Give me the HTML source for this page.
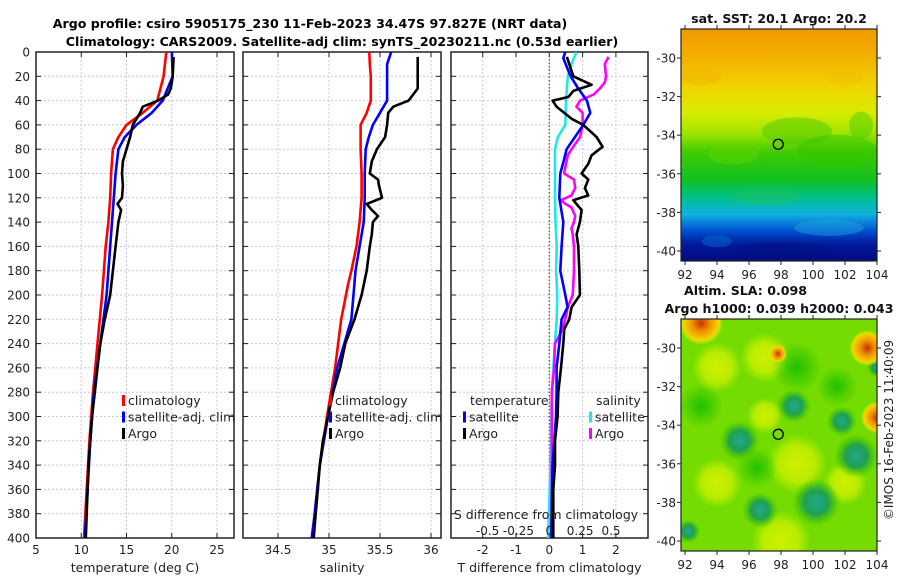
<!DOCTYPE html>
<html><head><meta charset="utf-8"><style>
body{margin:0;background:#fff;}
svg{display:block;font-family:"DejaVu Sans","Liberation Sans",sans-serif;}
</style></head><body>
<svg id="c" width="900" height="580" viewBox="0 0 900 580" xmlns="http://www.w3.org/2000/svg">
<defs>
<linearGradient id="sstg" x1="0" y1="0" x2="0" y2="1">
<stop offset="0" stop-color="#f09a00"/><stop offset="0.12" stop-color="#f4b000"/>
<stop offset="0.25" stop-color="#f0d400"/><stop offset="0.36" stop-color="#d8ec00"/>
<stop offset="0.45" stop-color="#a0e400"/><stop offset="0.53" stop-color="#40cc00"/>
<stop offset="0.65" stop-color="#10c020"/><stop offset="0.73" stop-color="#00c090"/>
<stop offset="0.8" stop-color="#10b0e0"/><stop offset="0.87" stop-color="#0050d0"/>
<stop offset="0.93" stop-color="#001898"/><stop offset="1" stop-color="#000c80"/>
</linearGradient>
<radialGradient id="bl"><stop offset="0" stop-color="#20a890"/><stop offset="0.5" stop-color="#20a050"/><stop offset="1" stop-color="#30c000" stop-opacity="0"/></radialGradient>
<radialGradient id="ye"><stop offset="0" stop-color="#d0f000"/><stop offset="0.6" stop-color="#b8ec00"/><stop offset="1" stop-color="#b0ec00" stop-opacity="0"/></radialGradient>
<radialGradient id="or"><stop offset="0" stop-color="#c83000"/><stop offset="0.4" stop-color="#f09000"/><stop offset="0.8" stop-color="#f0d800"/><stop offset="1" stop-color="#e0f000" stop-opacity="0"/></radialGradient>
<radialGradient id="gr"><stop offset="0" stop-color="#20c000"/><stop offset="1" stop-color="#20c000" stop-opacity="0"/></radialGradient>
<clipPath id="cm1"><rect x="681" y="29" width="196" height="232"/></clipPath>
<clipPath id="cm2"><rect x="681" y="319" width="196" height="232"/></clipPath>
<clipPath id="cp1"><rect x="36" y="52" width="198" height="486"/></clipPath>
<clipPath id="cp2"><rect x="243" y="52" width="198" height="486"/></clipPath>
<clipPath id="cp3"><rect x="451" y="52" width="197" height="486"/></clipPath>
</defs>
<text x="310" y="28" text-anchor="middle" font-size="12.6" font-weight="bold">Argo profile: csiro 5905175_230 11-Feb-2023 34.47S 97.827E (NRT data)</text>
<text x="342" y="46" text-anchor="middle" font-size="12.6" font-weight="bold">Climatology: CARS2009. Satellite-adj clim: synTS_20230211.nc (0.53d earlier)</text>
<g id="maps"></g>
<g id="plots"></g>
</svg>
<script>
// ---- data ----
const depthTick=[0,20,40,60,80,100,120,140,160,180,200,220,240,260,280,300,320,340,360,380,400];
const tTicks=[5,10,15,20,25];
const sTicks=[34.5,35,35.5,36];
const dTicks=[-2,-1,0,1,2];
const sdTicks=[-0.5,-0.25,0,0.25,0.5];
const sdTickLabels=["-0.5","-0.25","0","0.25","0.5"];

const climTdepth=[0,20,40,50,60,70,80,100,120,140,160,180,200,240,280,320,360,400];
const climT=[19.4,19.1,18.4,16.8,15.0,14.1,13.5,13.3,13.2,13.0,12.7,12.5,12.3,11.8,11.3,10.9,10.6,10.3];
const satT=[20.0,20.1,19.0,17.8,16.1,14.8,14.1,13.8,13.6,13.4,13.2,13.0,12.8,12.1,11.4,11.0,10.7,10.4];
const argoTdepth=[4,20,30,35,40,45,50,60,70,80,90,100,110,120,125,130,140,160,180,200,220,240,260,280,300,320,340,360,380,400];
const argoT=[20.2,20.1,19.9,19.6,18.5,16.8,16.5,15.7,15.4,15.0,14.6,14.5,14.6,14.5,14.0,14.4,14.1,13.8,13.5,13.2,12.6,12.1,11.8,11.5,11.2,11.0,10.8,10.7,10.6,10.5];

const climSdepth=[0,10,20,40,50,60,70,80,100,120,140,160,180,190,220,260,300,340,380,400];
const climS=[35.395,35.40,35.41,35.41,35.37,35.31,35.31,35.31,35.32,35.32,35.30,35.27,35.22,35.19,35.12,35.06,34.98,34.91,34.86,34.84];
const satS=[35.61,35.57,35.57,35.57,35.50,35.43,35.39,35.36,35.35,35.35,35.34,35.30,35.26,35.25,35.22,35.08,34.99,34.91,34.86,34.83];
const argoSdepth=[4,20,30,40,45,50,60,70,80,90,100,105,110,120,125,130,135,140,150,160,180,200,220,240,260,280,300,320,340,360,380,400];
const argoS=[35.87,35.87,35.87,35.78,35.63,35.58,35.57,35.55,35.47,35.42,35.40,35.48,35.49,35.52,35.37,35.42,35.48,35.43,35.42,35.40,35.37,35.32,35.25,35.16,35.11,35.04,34.99,34.94,34.91,34.89,34.87,34.85];

const argoDTdepth=[4,20,27,32,37,40,45,55,60,70,78,85,92,100,105,112,118,122,130,140,150,160,180,200,210,220,228,240,260,280,300,320,340,360,380,400];
const argoDT=[0.53,0.72,1.27,0.72,0.57,0.1,0.22,0.67,1.02,1.42,1.6,1.27,1.17,0.97,1.17,1.07,1.17,0.72,0.97,0.92,0.82,0.87,0.9,0.92,0.67,0.6,0.45,0.42,0.35,0.27,0.25,0.17,0.17,0.12,0.12,0.12];
const satDTdepth=[0,5,20,30,40,50,60,70,80,90,100,120,140,160,180,200,210,220,240,260,280,300,340,360,400];
const satDT=[0.48,0.42,0.64,0.87,1.13,1.23,1.02,0.77,0.52,0.43,0.33,0.3,0.42,0.37,0.33,0.48,0.55,0.37,0.3,0.22,0.22,0.2,0.1,0.08,0.06];
const satDSdepth=[0,10,20,40,60,70,80,100,120,140,160,180,200,220,240,280,340,400];
const satDS=[0.22,0.18,0.15,0.135,0.13,0.07,0.046,0.046,0.046,0.05,0.06,0.055,0.065,0.06,0.045,0.02,0.01,-0.01];
const argoDSdepth=[4,10,20,25,30,35,40,45,50,60,70,80,85,95,100,105,112,118,122,125,128,135,140,145,150,160,180,200,210,220,230,240,260,280,320,360,400];
const argoDS=[0.48,0.45,0.46,0.45,0.41,0.36,0.25,0.22,0.27,0.27,0.25,0.18,0.15,0.13,0.12,0.2,0.21,0.18,0.095,0.13,0.18,0.21,0.2,0.18,0.19,0.2,0.2,0.19,0.15,0.13,0.1,0.045,0.04,0.02,0.02,0.02,0.015];

const lonTicks=[92,94,96,98,100,102,104];
const latTicks=[-30,-32,-34,-36,-38,-40];
const argoLon=97.827, argoLat=-34.47;

// ---- helpers ----
const NS="http://www.w3.org/2000/svg";
function mk(parent,tag,attrs,text){const e=document.createElementNS(NS,tag);for(const k in attrs)e.setAttribute(k,attrs[k]);if(text!==undefined)e.textContent=text;parent.appendChild(e);return e;}
const plots=document.getElementById('plots');
const yD=d=>52+d*1.215;
const xT=t=>36+(t-5)*9.05;
const xS=s=>278+(s-34.5)*102;
const xDT=v=>549.3+v*33.3;
const xDS=v=>549.3+v*123.4;
const panels=[{x0:36,x1:234,ticks:tTicks,fx:xT,lab:t=>String(t),title:"temperature (deg C)",name:"temperature"},
 {x0:243,x1:441,ticks:sTicks,fx:xS,lab:t=>String(t),title:"salinity",name:"salinity"},
 {x0:451,x1:648,ticks:dTicks,fx:xDT,lab:t=>String(t),title:"T difference from climatology",name:"difference"}];
panels.forEach((p,i)=>{
  const g=mk(plots,'g',{});
  
  
  depthTick.forEach(d=>{
    if(d>0&&d<400){const l=mk(g,'line',{x1:p.x0,x2:p.x1,y1:yD(d),y2:yD(d),stroke:'#c4c8e4','stroke-width':1,'stroke-dasharray':'2,2'});
    }
    mk(g,'line',{x1:p.x0,x2:p.x0+5,y1:yD(d),y2:yD(d),stroke:'#222'});
    mk(g,'line',{x1:p.x1-5,x2:p.x1,y1:yD(d),y2:yD(d),stroke:'#222'});
  });
  p.ticks.forEach(t=>{
    const x=p.fx(t);
    if(x>p.x0+1&&x<p.x1-1){const l=mk(g,'line',{x1:x,x2:x,y1:52,y2:538,stroke:'#c4c8e4','stroke-width':1,'stroke-dasharray':'2,2'});
    }
    mk(g,'line',{x1:x,x2:x,y1:52,y2:57,stroke:'#222'});
    mk(g,'line',{x1:x,x2:x,y1:533,y2:538,stroke:'#222'});
    const tl=mk(g,'text',{x:x,y:554,'text-anchor':'middle','font-size':12,fill:'#222'},p.lab(t));
    
  });
  const at=mk(g,'text',{x:(p.x0+p.x1)/2,y:572,'text-anchor':'middle','font-size':12.5,fill:'#222'},p.title);
  
  const fr=mk(g,'rect',{x:p.x0,y:52,width:p.x1-p.x0,height:486,fill:'none',stroke:'#222','stroke-width':1.5});
  
});
depthTick.forEach(d=>{
  const t=mk(plots,'text',{x:30,y:yD(d)+4.5,'text-anchor':'end','font-size':12,fill:'#222'},String(d));
  
});
const zl=mk(plots,'line',{x1:xDT(0),x2:xDT(0),y1:52,y2:538,stroke:'#4a5a20','stroke-width':1.2,'stroke-dasharray':'1.5,2'});


function series(depths,vals,fx,color,clip,name){
  const pts=depths.map((d,i)=>fx(vals[i]).toFixed(1)+','+yD(d).toFixed(1)).join(' ');
  const l=mk(plots,'polyline',{points:pts,fill:'none',stroke:color,'stroke-width':2.6,'stroke-linejoin':'round','clip-path':'url(#'+clip+')'});
  
  
}
series(climTdepth,climT,xT,'#ff0000','cp1','clim-temperature-line');
series(climTdepth,satT,xT,'#0000ff','cp1','sat-temperature-line');
series(argoTdepth,argoT,xT,'#000','cp1','argo-temperature-line');
series(climSdepth,climS,xS,'#ff0000','cp2','clim-salinity-line');
series(climSdepth,satS,xS,'#0000ff','cp2','sat-salinity-line');
series(argoSdepth,argoS,xS,'#000','cp2','argo-salinity-line');
series(satDSdepth,satDS,xDS,'#20e8e8','cp3','sat-salinity-diff-line');
series(argoDSdepth,argoDS,xDS,'#ff00ff','cp3','argo-salinity-diff-line');
series(satDTdepth,satDT,xDT,'#0000ff','cp3','sat-temperature-diff-line');
series(argoDTdepth,argoDT,xDT,'#000','cp3','argo-temperature-diff-line');

const sdt=mk(plots,'text',{x:546,y:519,'text-anchor':'middle','font-size':12.5,fill:'#222'},'S difference from climatology');

sdTicks.forEach((v,i)=>{
  const t=mk(plots,'text',{x:xDS(v),y:535,'text-anchor':'middle','font-size':12,fill:'#222'},sdTickLabels[i]);
  
});

function legend(x,y,items,name){
  const g=mk(plots,'g',{});
  
  items.forEach((it,i)=>{
    const yy=y+i*16.5;
    if(it[0])mk(g,'rect',{x:x,y:yy-10,width:3,height:11,fill:it[0]});
    const t=mk(g,'text',{x:x+(it[0]?6:0),y:yy,'font-size':12.5,fill:'#222'},it[1]);
    
  });
}
legend(122,405,[['#ff0000','climatology'],['#0000ff','satellite-adj. clim'],['#000','Argo']],'temperature-legend');
legend(329,405,[['#ff0000','climatology'],['#0000ff','satellite-adj. clim'],['#000','Argo']],'salinity-legend');
legend(470,405,[[null,'temperature']],'diff-legend-temp-header');
legend(463,421.5,[['#0000ff','satellite'],['#000','Argo']],'diff-legend-temperature');
legend(596,405,[[null,'salinity']],'diff-legend-sal-header');
legend(589,421.5,[['#20e8e8','satellite'],['#ff00ff','Argo']],'diff-legend-salinity');

// ---- maps ----
const maps=document.getElementById('maps');
const xLon=l=>685+(l-92)*16;
function mapAxes(y0,latY,name){
  const g=mk(maps,'g',{});
  
  mk(g,'rect',{x:681,y:y0,width:196,height:232,fill:'none',stroke:'#222','stroke-width':1.2});
  lonTicks.forEach(l=>{const x=xLon(l);
    mk(g,'line',{x1:x,x2:x,y1:y0+232,y2:y0+236,stroke:'#222'});
    mk(g,'line',{x1:x,x2:x,y1:y0,y2:y0-4,stroke:'#222'});
    const t=mk(g,'text',{x:x,y:y0+250,'text-anchor':'middle','font-size':12,fill:'#222'},String(l));
    });
  latTicks.forEach(l=>{const y=latY(l);
    mk(g,'line',{x1:677,x2:681,y1:y,y2:y,stroke:'#222'});
    mk(g,'line',{x1:877,x2:881,y1:y,y2:y,stroke:'#222'});
    const t=mk(g,'text',{x:676,y:y+4.5,'text-anchor':'end','font-size':12,fill:'#222'},String(l));
    });
  const c=mk(g,'circle',{cx:xLon(argoLon),cy:latY(argoLat),r:5,fill:'none',stroke:'#000','stroke-width':1.3});
  
}
const lat1=l=>58+(-30-l)*19.3, lat2=l=>348+(-30-l)*19.3;
const g1=mk(maps,'g',{'clip-path':'url(#cm1)'});

mk(g1,'rect',{x:681,y:29,width:196,height:232,fill:'url(#sstg)'});
[[99,-33.8,35,14,'#40c800'],[101.5,-34.8,40,16,'#30c400'],[95,-35,25,10,'#60d400'],[103,-33.5,12,14,'#40cc00'],
 [102,-31,18,10,'#f0c000'],[93,-31,20,8,'#f0b400'],[97,-37.2,35,8,'#20c060'],[101,-38.8,35,8,'#20a8e0'],
 [98,-40,45,8,'#001080'],[94,-39.5,15,6,'#0070d8']].forEach(b=>{
  mk(g1,'ellipse',{cx:xLon(b[0]),cy:lat1(b[1]),rx:b[2],ry:b[3],fill:b[4],opacity:0.45});});
mapAxes(29,lat1,'sst-map-axes');
const g2=mk(maps,'g',{'clip-path':'url(#cm2)'});

mk(g2,'rect',{x:681,y:319,width:196,height:232,fill:'#74dc00'});
[[94,-31,25,'ye'],[97,-30.5,25,'ye'],[99,-36,30,'ye'],[94,-37,25,'ye'],[98,-40,30,'ye'],[102,-37,22,'ye'],[97,-33.5,18,'ye'],
 [93,-33,22,'gr'],[99,-31,25,'gr'],[101.5,-32,20,'gr'],[96.5,-36.2,20,'gr']].forEach(b=>{
  mk(g2,'circle',{cx:xLon(b[0]),cy:lat2(b[1]),r:b[2],fill:'url(#'+b[3]+')'});});
[[95.4,-34.8,20],[98.8,-33,17],[102.7,-35.6,22],[96.7,-38.4,18],[100.2,-38,24],[101.8,-33.8,15],[92.2,-39.5,12],[104,-31,10]].forEach(b=>{
  mk(g2,'circle',{cx:xLon(b[0]),cy:lat2(b[1]),r:b[2],fill:'url(#bl)'});});
[[93,-28.7,22],[103.4,-30,18],[104,-33.6,16],[97.8,-30.3,9]].forEach(b=>{
  mk(g2,'circle',{cx:xLon(b[0]),cy:lat2(b[1]),r:b[2],fill:'url(#or)'});});
mapAxes(319,lat2,'sla-map-axes');

function txt(x,y,s,anchor,name){const t=mk(maps,'text',{x:x,y:y,'text-anchor':anchor,'font-size':12.6,'font-weight':'bold',fill:'#111'},s);
 }
txt(779,23,'sat. SST: 20.1 Argo: 20.2','middle','sst-map-title');
txt(684,295,'Altim. SLA: 0.098','start','sla-title');
txt(779,313,'Argo h1000: 0.039 h2000: 0.043','middle','sla-subtitle');
const cr=mk(maps,'text',{x:0,y:0,'font-size':12,fill:'#222','text-anchor':'middle',transform:'translate(893,430) rotate(-90)'},'©IMOS 16-Feb-2023 11:40:09');

</script>
</body></html>
